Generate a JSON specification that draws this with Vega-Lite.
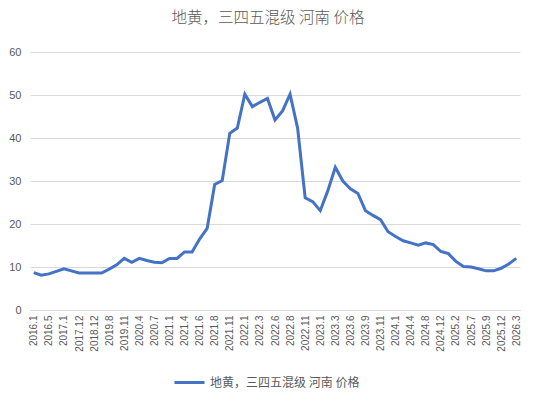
{
  "$schema": "https://vega.github.io/schema/vega-lite/v6.json",
  "autosize": {"type": "none"},
  "width": 490,
  "height": 258,
  "padding": {"left": 30, "top": 52, "right": 16, "bottom": 92},
  "background": "white",
  "title": {
    "text": "地黄，三四五混级 河南 价格",
    "font": "Noto Sans CJK SC",
    "fontSize": 15.5,
    "fontWeight": 300,
    "color": "#595959",
    "anchor": "middle",
    "frame": "group",
    "dx": -7,
    "offset": 20
  },
  "config": {"view": {"stroke": null}},
  "data": {
    "values": [
      {"t": "2016.1", "v": 8.7}, {"t": "2016.3", "v": 8.1}, {"t": "2016.5", "v": 8.4}, {"t": "2016.9", "v": 9.0},
      {"t": "2017.1", "v": 9.6}, {"t": "2017.6", "v": 9.1}, {"t": "2017.12", "v": 8.6}, {"t": "2018.6", "v": 8.6},
      {"t": "2018.12", "v": 8.6}, {"t": "2019.3", "v": 8.6}, {"t": "2019.8", "v": 9.5}, {"t": "2019.10", "v": 10.5},
      {"t": "2019.11", "v": 12.0}, {"t": "2020.1", "v": 11.1}, {"t": "2020.4", "v": 12.0}, {"t": "2020.6", "v": 11.5},
      {"t": "2020.7", "v": 11.1}, {"t": "2020.10", "v": 11.0}, {"t": "2021.1", "v": 12.0}, {"t": "2021.3", "v": 12.0},
      {"t": "2021.4", "v": 13.5}, {"t": "2021.5", "v": 13.5}, {"t": "2021.6", "v": 16.5}, {"t": "2021.7", "v": 19.0},
      {"t": "2021.8", "v": 29.2}, {"t": "2021.9", "v": 30.1}, {"t": "2021.11", "v": 41.1}, {"t": "2021.12", "v": 42.3},
      {"t": "2022.1", "v": 50.2}, {"t": "2022.2", "v": 47.3}, {"t": "2022.3", "v": 48.3}, {"t": "2022.5", "v": 49.2},
      {"t": "2022.6", "v": 44.2}, {"t": "2022.7", "v": 46.3}, {"t": "2022.8", "v": 50.2}, {"t": "2022.10", "v": 42.3},
      {"t": "2022.11", "v": 26.1}, {"t": "2022.12", "v": 25.2}, {"t": "2023.1", "v": 23.1}, {"t": "2023.2", "v": 27.7},
      {"t": "2023.3", "v": 33.2}, {"t": "2023.5", "v": 30.0}, {"t": "2023.6", "v": 28.2}, {"t": "2023.7", "v": 27.1},
      {"t": "2023.9", "v": 23.1}, {"t": "2023.10", "v": 22.0}, {"t": "2023.11", "v": 21.0}, {"t": "2023.12", "v": 18.2},
      {"t": "2024.1", "v": 17.1}, {"t": "2024.3", "v": 16.1}, {"t": "2024.4", "v": 15.6}, {"t": "2024.6", "v": 15.1},
      {"t": "2024.8", "v": 15.6}, {"t": "2024.10", "v": 15.2}, {"t": "2024.12", "v": 13.6}, {"t": "2025.1", "v": 13.1},
      {"t": "2025.2", "v": 11.3}, {"t": "2025.5", "v": 10.1}, {"t": "2025.7", "v": 10.0}, {"t": "2025.8", "v": 9.6},
      {"t": "2025.9", "v": 9.1}, {"t": "2025.11", "v": 9.1}, {"t": "2025.12", "v": 9.7}, {"t": "2026.1", "v": 10.7},
      {"t": "2026.3", "v": 12.0}
    ]
  },
  "transform": [{"calculate": "'地黄，三四五混级 河南 价格'", "as": "s"}],
  "mark": {"type": "line", "strokeWidth": 3, "strokeJoin": "miter"},
  "encoding": {
    "x": {
      "field": "t",
      "type": "ordinal",
      "sort": null,
      "scale": {"type": "point", "padding": 0.5},
      "axis": {
        "title": null,
        "labelAngle": -90,
        "labelFont": "Liberation Sans",
        "labelFontSize": 10,
        "labelColor": "#595959",
        "labelPadding": 5,
        "ticks": false,
        "domainColor": "#d9d9d9",
        "domainWidth": 1,
        "grid": false,
        "labelOverlap": false,
        "values": ["2016.1","2016.5","2017.1","2017.12","2018.12","2019.8","2019.11","2020.4","2020.7","2021.1","2021.4","2021.6","2021.8","2021.11","2022.1","2022.3","2022.6","2022.8","2022.11","2023.1","2023.3","2023.6","2023.9","2023.11","2024.1","2024.4","2024.8","2024.12","2025.2","2025.7","2025.9","2025.12","2026.3"]
      }
    },
    "y": {
      "field": "v",
      "type": "quantitative",
      "scale": {"domain": [0, 60], "nice": false},
      "axis": {
        "title": null,
        "values": [0, 10, 20, 30, 40, 50, 60],
        "labelFont": "Liberation Sans",
        "labelFontSize": 11,
        "labelColor": "#595959",
        "labelPadding": 9,
        "ticks": false,
        "domain": false,
        "gridColor": "#d9d9d9",
        "gridWidth": 1
      }
    },
    "color": {
      "field": "s",
      "type": "nominal",
      "scale": {"range": ["#4472C4"]},
      "legend": {
        "title": null,
        "orient": "none",
        "legendX": 143,
        "legendY": 314,
        "symbolType": "stroke",
        "symbolSize": 900,
        "symbolStrokeWidth": 3,
        "labelFont": "Noto Sans CJK SC",
        "labelFontSize": 12,
        "labelColor": "#595959",
        "labelOffset": 4
      }
    }
  }
}
